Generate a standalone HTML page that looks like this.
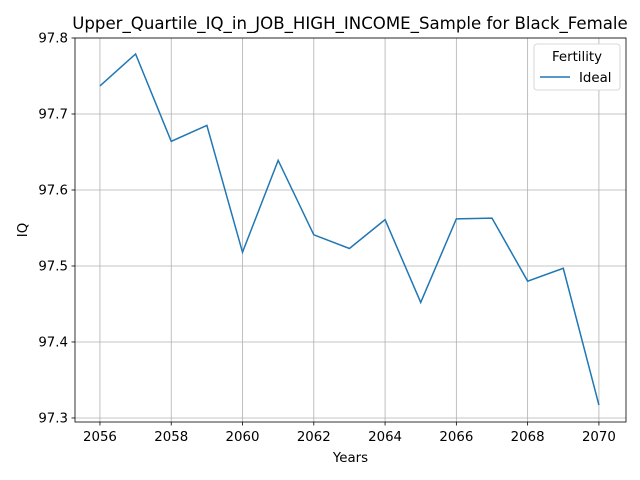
<!DOCTYPE html>
<html><head><meta charset="utf-8"><style>
body{margin:0;background:#fff;}
svg{display:block;font-family:"DejaVu Sans","Liberation Sans",sans-serif;}
</style></head><body>
<svg id="chart" width="640" height="480"></svg>
<script>
const years=[2056,2057,2058,2059,2060,2061,2062,2063,2064,2065,2066,2067,2068,2069,2070];
const iqValues=[97.737,97.779,97.664,97.685,97.518,97.639,97.541,97.523,97.561,97.452,97.562,97.563,97.480,97.497,97.317];
const xTicks=[2056,2058,2060,2062,2064,2066,2068,2070];
const yTicks=[97.3,97.4,97.5,97.6,97.7,97.8];
const L=75,R=626,T=38,B=422;
const xMin=2055.3,xMax=2070.76,yMin=97.2947,yMax=97.8;
const sx=v=>L+(v-xMin)/(xMax-xMin)*(R-L);
const sy=v=>B-(v-yMin)/(yMax-yMin)*(B-T);
const ns="http://www.w3.org/2000/svg";
const svg=document.getElementById('chart');
function mk(tag,attrs,parent){const e=document.createElementNS(ns,tag);for(const k in attrs)e.setAttribute(k,attrs[k]);(parent||svg).appendChild(e);return e;}
const grid=mk('g',{});


xTicks.forEach(t=>{
 const x=sx(t);
 mk('line',{x1:x,x2:x,y1:T,y2:B,stroke:'#b0b0b0','stroke-width':0.8},grid);
 mk('line',{x1:x,x2:x,y1:B,y2:B+3.5,stroke:'#000','stroke-width':0.8});
 const tx=mk('text',{x:x,y:B+19,'text-anchor':'middle','font-size':13.33,fill:'#000'});
 
 
 tx.textContent=t;
});
yTicks.forEach(t=>{
 const y=sy(t);
 mk('line',{x1:L,x2:R,y1:y,y2:y,stroke:'#b0b0b0','stroke-width':0.8},grid);
 mk('line',{x1:L-3.5,x2:L,y1:y,y2:y,stroke:'#000','stroke-width':0.8});
 const tx=mk('text',{x:L-7,y:y+4.5,'text-anchor':'end','font-size':13.33,fill:'#000'});
 
 
 tx.textContent=t.toFixed(1);
});
const pts=years.map((y,i)=>sx(y).toFixed(2)+','+sy(iqValues[i]).toFixed(2)).join(' ');
const line=mk('polyline',{points:pts,fill:'none',stroke:'#1f77b4','stroke-width':1.5});


const frame=mk('rect',{x:L,y:T,width:R-L,height:B-T,fill:'none',stroke:'#000','stroke-width':0.8});


const title=mk('text',{x:350,y:29,'text-anchor':'middle','font-size':16.6,fill:'#000'});


title.textContent='Upper_Quartile_IQ_in_JOB_HIGH_INCOME_Sample for Black_Female';
const xl=mk('text',{x:(L+R)/2,y:462,'text-anchor':'middle','font-size':13.33,fill:'#000'});


xl.textContent='Years';
const yl=mk('text',{x:27,y:230,'text-anchor':'middle','font-size':13.33,fill:'#000',transform:'rotate(-90 27 230)'});


yl.textContent='IQ';
const lg=mk('g',{});


mk('rect',{x:534,y:44,width:86,height:46,rx:3,fill:'#fff',stroke:'#ccc','stroke-width':0.8},lg);
const lt=mk('text',{x:577,y:61,'text-anchor':'middle','font-size':13.33,fill:'#000'},lg);


lt.textContent='Fertility';
mk('line',{x1:540,x2:570,y1:77,y2:77,stroke:'#1f77b4','stroke-width':1.5},lg);
const le=mk('text',{x:579,y:82,'font-size':13.33,fill:'#000'},lg);


le.textContent='Ideal';
</script>
</body></html>
